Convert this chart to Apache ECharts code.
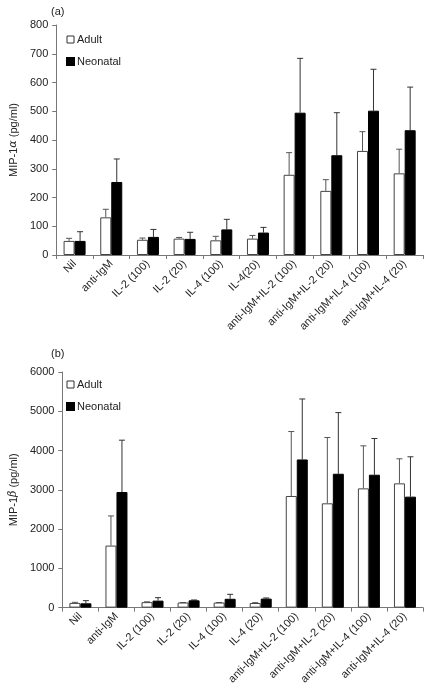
<!DOCTYPE html>
<html><head><meta charset="utf-8">
<script src="https://cdn.jsdelivr.net/npm/echarts@6/dist/echarts.min.js"></script>
<style>html,body{margin:0;padding:0;background:#fff}#c{width:432px;height:687px}</style>
</head><body><div id="c"></div>
<script>
var catsA = ['Nil','anti-IgM','IL-2 (100)','IL-2 (20)','IL-4 (100)','IL-4(20)','anti-IgM+IL-2 (100)','anti-IgM+IL-2 (20)','anti-IgM+IL-4 (100)','anti-IgM+IL-4 (20)'];
var catsB = ['Nil','anti-IgM','IL-2 (100)','IL-2 (20)','IL-4 (100)','IL-4 (20)','anti-IgM+IL-2 (100)','anti-IgM+IL-2 (20)','anti-IgM+IL-4 (100)','anti-IgM+IL-4 (20)'];
var adultA = [49, 131, 53, 57, 51, 57, 279, 223, 362, 284];
var adultSdA = [9, 28, 6, 4, 14, 11, 77, 39, 67, 84];
var neoA = [49, 254, 63, 56, 89, 78, 495, 347, 502, 434];
var neoSdA = [32, 80, 26, 23, 35, 18, 189, 148, 144, 150];
var adultB = [120, 1580, 140, 130, 130, 118, 2843, 2656, 3037, 3164];
var adultSdB = [15, 755, 8, 0, 0, 9, 1641, 1676, 1083, 626];
var neoB = [110, 2944, 178, 186, 225, 229, 3773, 3409, 3384, 2826];
var neoSdB = [68, 1320, 76, 9, 114, 17, 1540, 1557, 922, 1015];
var ticksA = {min: 0, max: 800, interval: 100};
var ticksB = {min: 0, max: 6000, interval: 1000};

var FONT = 'Liberation Sans';
var BW = 11;
function errSeries(name, means, sds, axisIdx, side, color) {
  return {
    type: 'custom', name: name + ' err', xAxisIndex: axisIdx, yAxisIndex: axisIdx, z: 1,
    silent: true,
    data: means.map(function (m, i) { return [i, m, m + sds[i]]; }),
    renderItem: function (params, api) {
      var lo = api.coord([api.value(0), api.value(1)]);
      var hi = api.coord([api.value(0), api.value(2)]);
      var x = lo[0] + side * BW / 2;
      return {type: 'group', children: [
        {type: 'line', shape: {x1: x, y1: lo[1], x2: x, y2: hi[1]}, style: {stroke: color, lineWidth: 1}},
        {type: 'line', shape: {x1: x - 3, y1: hi[1], x2: x + 3, y2: hi[1]}, style: {stroke: color, lineWidth: 1}}
      ]};
    }
  };
}
function barSeries(name, data, axisIdx, fill) {
  return {type: 'bar', name: name, xAxisIndex: axisIdx, yAxisIndex: axisIdx, data: data,
    barWidth: BW, barGap: '0%', z: 2,
    itemStyle: {color: fill, borderColor: fill === '#fff' ? '#444' : '#000', borderWidth: 1}};
}
function xAx(cats, gi) {
  return {type: 'category', gridIndex: gi, data: cats, boundaryGap: true,
    axisLine: {lineStyle: {color: '#777', width: 1}},
    axisTick: {show: true, alignWithLabel: false, length: 4, lineStyle: {color: '#777'}},
    axisLabel: {rotate: 45, interval: 0, fontFamily: FONT, fontSize: 11, color: '#222', margin: 7}};
}
function yAx(t, gi, greek) {
  return {type: 'value', gridIndex: gi, min: t.min, max: t.max, interval: t.interval,
    name: '{a|MIP-1}{g|' + greek + '}{a| (pg/ml)}', nameLocation: 'middle', nameGap: 36, nameRotate: 90,
    nameTextStyle: {rich: {a: {fontFamily: FONT, fontSize: 11, color: '#222'}, g: {fontFamily: 'DejaVu Serif', fontStyle: 'italic', fontSize: 11, color: '#222'}}},
    splitLine: {show: false},
    axisLine: {show: true, lineStyle: {color: '#777', width: 1}},
    axisTick: {show: true, length: 4, lineStyle: {color: '#777'}},
    axisLabel: {fontFamily: FONT, fontSize: 11, color: '#222', margin: 8,
      formatter: function (v) { return String(v); }}};
}
function leg(top) {
  return {orient: 'vertical', left: 61, top: top, itemWidth: 7, itemHeight: 7, itemGap: 11,
    icon: 'rect', selectedMode: false,
    textStyle: {fontFamily: FONT, fontSize: 11, color: '#222', padding: [0, 0, 0, -2]},
    data: [{name: 'Adult', itemStyle: {color: '#fff', borderColor: '#333', borderWidth: 1}}, {name: 'Neonatal'}]};
}
var chart = echarts.init(document.getElementById('c'), null, {renderer: 'canvas'});
chart.setOption({
  animation: false,
  backgroundColor: '#fff',
  title: [
    {text: '(a)', left: 46, top: 1, textStyle: {fontFamily: FONT, fontSize: 11, fontWeight: 'normal', color: '#222'}},
    {text: '(b)', left: 46, top: 343, textStyle: {fontFamily: FONT, fontSize: 11, fontWeight: 'normal', color: '#222'}}
  ],
  legend: [leg(29), leg(374)],
  grid: [
    {left: 53, right: 9, top: 25, height: 230},
    {left: 53, right: 9, top: 372, height: 236}
  ],
  xAxis: [xAx(catsA, 0), xAx(catsB, 1)],
  yAxis: [yAx(ticksA, 0, 'α'), yAx(ticksB, 1, 'β')],
  series: [
    barSeries('Adult', adultA, 0, '#fff'),
    barSeries('Neonatal', neoA, 0, '#000'),
    errSeries('Adult', adultA, adultSdA, 0, -1, '#555'),
    errSeries('Neonatal', neoA, neoSdA, 0, 1, '#333'),
    barSeries('Adult', adultB, 1, '#fff'),
    barSeries('Neonatal', neoB, 1, '#000'),
    errSeries('Adult', adultB, adultSdB, 1, -1, '#555'),
    errSeries('Neonatal', neoB, neoSdB, 1, 1, '#333')
  ]
});
</script></body></html>
